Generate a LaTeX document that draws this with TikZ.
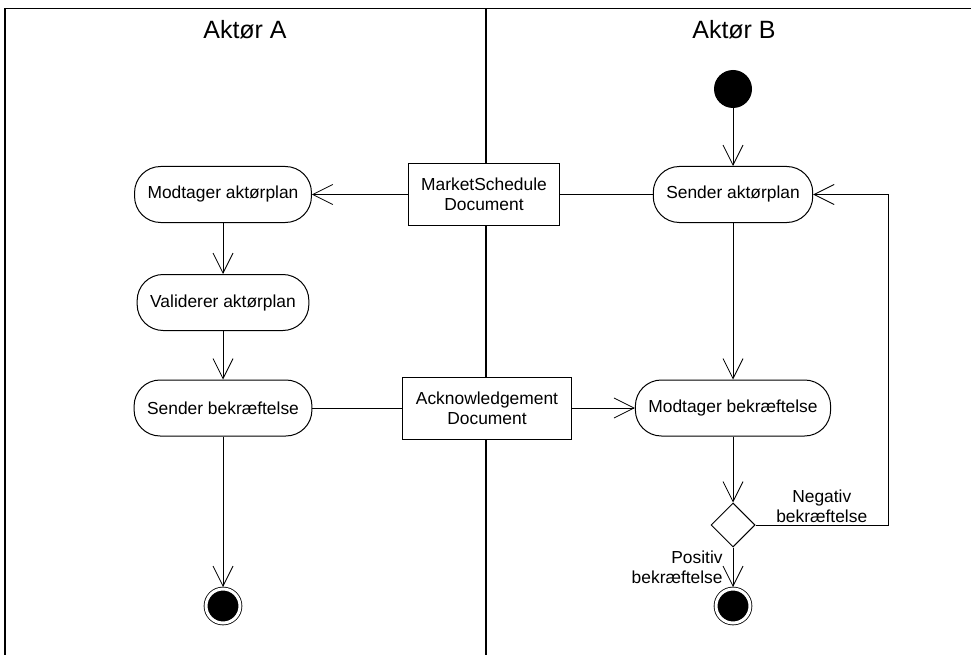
\documentclass[tikz,border=0pt]{standalone}
\usepackage{fontspec}
\setmainfont{Liberation Sans}
\usepackage{tikz}
\usetikzlibrary{positioning,shapes.geometric,arrows.meta}

\begin{document}
\begin{tikzpicture}[->,>={Straight Barb[length=20pt,width=20pt]},x=1pt,y=-1pt,line width=0.8pt,
		font=\fontsize{17.4}{20.4}\selectfont,
		act/.style={draw,rectangle,rounded corners=26pt,minimum height=56pt,inner xsep=13pt,line width=1pt},
		doc/.style={draw,fill=white,rectangle,minimum height=62pt,inner xsep=13pt,align=center,line width=1pt},
		init/.style={circle,fill=black,minimum size=38pt,inner sep=0pt},
		fin/.style={circle,draw,fill=black,double=white,double distance=3pt,minimum size=34pt,inner sep=0pt,outer sep=2pt},
		dec/.style={diamond,draw,aspect=1,minimum width=44pt,minimum height=44pt,inner sep=0pt,line width=1pt},
		head/.style={font=\fontsize{25}{29}\selectfont}]
		\useasboundingbox (0,0) rectangle (971,655);
		% swimlanes
		\draw[-,line width=1.3pt] (5,655) -- (5,8.5) -- (971,8.5);
		\draw[-,line width=1.3pt] (486,8.5) -- (486,655);
		\node[head] (hA) at (245,29.5) {Aktør A};
		\node[head] (hB) at (734,29.5) {Aktør B};
		% nodes
		\node[init] (s) at (733,89) {};
		\node[act] (sp) [node distance=105.5pt, below of=s] {Sender aktørplan};
		\node[act] (mp) at (223,194.5) {Modtager aktørplan};
		\node[doc] (msd) at (484,194.5) {MarketSchedule\\Document};
		\node[act] (vp) [node distance=108pt, below of=mp] {Validerer aktørplan};
		\node[act] (sb) [node distance=105.5pt, below of=vp] {Sender bekræftelse};
		\node[doc] (ackd) at (487,408) {Acknowledgement\\Document};
		\node[act] (mb) [node distance=213.5pt, below of=sp] {Modtager bekræftelse};
		\node[dec] (d) [node distance=117pt, below of=mb] {};
		\node[fin] (eB) [node distance=81pt, below of=d] {};
		\node[fin] (eA) at (223,606) {};
		\coordinate (n) at (888,525);
		% flows
		\draw (s) to (sp);
		\draw[-] (sp) to (msd);
		\draw (msd) to (mp);
		\draw (mp) to (vp);
		\draw (vp) to (sb);
		\draw (sb) to (eA);
		\draw[-] (sb) to (ackd);
		\draw (ackd) to (mb);
		\draw (sp) to (mb);
		\draw (mb) to (d);
		\draw (d) to node[left,align=right,inner sep=1pt,xshift=-9pt]{Positiv\\bekræftelse} (eB);
		\draw (d) -- node[above,align=center,inner sep=2pt]{Negativ\\bekræftelse} (n) |- (sp);
\end{tikzpicture}
\end{document}
